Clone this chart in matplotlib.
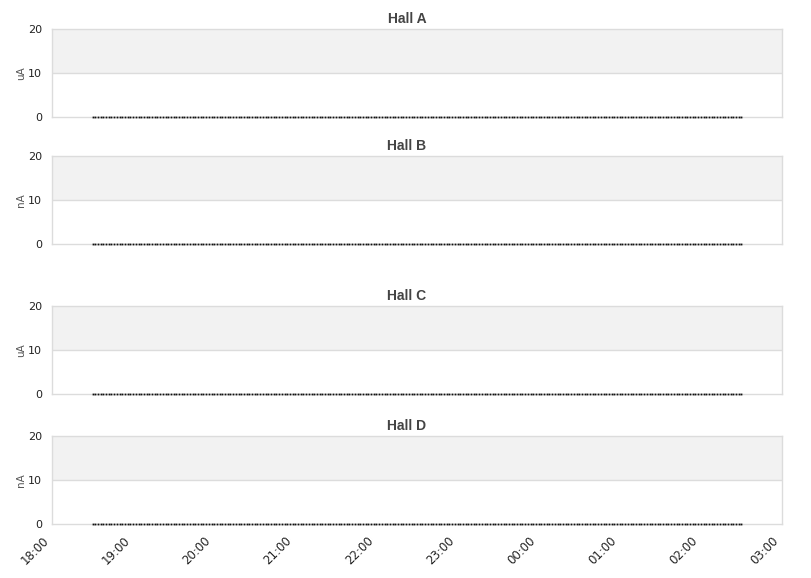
import numpy as np
import pandas as pd
import matplotlib
matplotlib.use("Agg")
import matplotlib.pyplot as plt
import matplotlib.dates as mdates
import matplotlib.transforms as mtransforms

plt.rcParams["font.family"] = "DejaVu Sans"

# panels: title, unit
halls = ["Hall A", "Hall B", "Hall C", "Hall D"]
units = ["uA", "nA", "uA", "nA"]

# readings every 2 minutes, all zero for the whole shift
sample_start = "2024-01-01 18:30"
sample_end = "2024-01-02 02:30"
sample_step = "2min"
times = pd.date_range(sample_start, sample_end, freq=sample_step)
currents = {h: [0.0] * len(times) for h in halls}

x_min = pd.Timestamp("2024-01-01 18:00")
x_max = pd.Timestamp("2024-01-02 03:00")
y_ticks = [0, 10, 20]

W, H = 811, 578
fig = plt.figure(figsize=(W / 100, H / 100), dpi=100)

# pixel boxes (top, bottom) of each plot area
boxes = [(29, 117), (156, 244), (306, 394), (436, 524)]
left, right = 52, 782
grid_col = "#dcdcdc"

for i, (hall, unit) in enumerate(zip(halls, units)):
    top, bot = boxes[i]
    ax = fig.add_axes([left / W, 1 - bot / H, (right - left) / W, (bot - top) / H])
    ax.set_xlim(x_min, x_max)
    ax.set_ylim(0, 20)
    ax.axhspan(10, 20, color="#f2f2f2", zorder=0, lw=0)
    ax.axhline(10, color=grid_col, lw=1, zorder=1)
    for s in ax.spines.values():
        s.set_color(grid_col)
        s.set_linewidth(1)

    ax.plot(times, currents[hall], linestyle="none", marker="s",
            markersize=1.3, markeredgewidth=0, color="#111111", zorder=3,
            clip_on=False)

    ax.set_yticks(y_ticks)
    ax.tick_params(axis="y", length=0, pad=7, labelsize=8, labelcolor="#222222")
    ax.set_ylabel(unit, fontsize=7.5, color="#555555")
    ax.yaxis.set_label_coords((26 - left) / (right - left), 0.5)
    ax.xaxis.set_major_locator(mdates.HourLocator())
    ax.xaxis.set_major_formatter(mdates.DateFormatter("%H:%M"))
    ax.tick_params(axis="x", length=0, pad=0, labelsize=8.5, labelcolor="#222222")
    if i < 3:
        ax.tick_params(axis="x", labelbottom=False)
    else:
        shift = mtransforms.ScaledTranslation(-10 / 100, -10 / 100, fig.dpi_scale_trans)
        for lbl in ax.get_xticklabels():
            lbl.set_rotation(45)
            lbl.set_ha("right")
            lbl.set_va("top")
            lbl.set_rotation_mode("anchor")
            lbl.set_transform(lbl.get_transform() + shift)

    fig.text(407 / W, 1 - (top - 10) / H, hall, ha="center", va="center",
             fontsize=10, fontweight="bold", color="#444444",
             family="Liberation Sans")

fig.savefig("out.png", dpi=100)
